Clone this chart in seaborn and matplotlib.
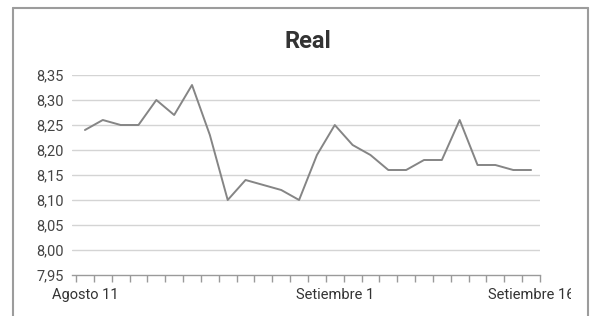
import matplotlib
matplotlib.use("Agg")
import matplotlib.pyplot as plt
import seaborn as sns
import pandas as pd
import numpy as np
from matplotlib.transforms import Bbox
from matplotlib.lines import Line2D

# ---- data ----
values = [8.24, 8.26, 8.25, 8.25, 8.30, 8.27, 8.33, 8.23, 8.10, 8.14, 8.13,
          8.12, 8.10, 8.19, 8.25, 8.21, 8.19, 8.16, 8.16, 8.18, 8.18, 8.26,
          8.17, 8.17, 8.16, 8.16]
label_pos = [0, 14, 25]
label_text = ["Agosto 11", "Setiembre 1", "Setiembre 16"]
y_ticks = [7.95, 8.00, 8.05, 8.10, 8.15, 8.20, 8.25, 8.30, 8.35]
title = "Real"

sns.set_theme(style="white")
plt.rcParams['font.family'] = ['Roboto', 'DejaVu Sans']

W, H = 603, 316
fig = plt.figure(figsize=(W / 100, H / 100), dpi=100)
fig.patch.set_facecolor("white")

ax = fig.add_axes([72 / W, (H - 275) / H, (540 - 72) / W, 200 / H])
df = pd.DataFrame({"i": list(range(len(values))), "v": values})
sns.lineplot(data=df, x="i", y="v", ax=ax, color="#858585", linewidth=1.4)

ax.set_xlim(-0.725, len(values) - 0.5)
ax.set_ylim(y_ticks[0], y_ticks[-1])
ax.set_xlabel("")
ax.set_ylabel("")

ax.set_yticks(y_ticks)
ax.set_yticklabels([f"{t:.2f}".replace(".", ",") for t in y_ticks])
for t in y_ticks[1:]:
    ax.axhline(t, color="#d4d4d4", lw=1.0, zorder=0)

for s in ["top", "right", "left"]:
    ax.spines[s].set_visible(False)
ax.spines["bottom"].set_color("#9a9a9a")
ax.spines["bottom"].set_linewidth(1.0)

ax.set_xticks(label_pos)
ax.set_xticklabels(label_text)
ax.set_xticks(np.arange(-0.5, len(values), 1), minor=True)
ax.tick_params(axis="x", which="major", length=0, pad=9.5, labelsize=10.5,
               labelcolor="#333333")
ax.tick_params(axis="x", which="minor", length=5, width=1.0, color="#9a9a9a",
               direction="out", bottom=True)
ax.tick_params(axis="y", length=0, pad=6, labelsize=10.5, labelcolor="#444444")

clip = Bbox.from_extents(0, 0, 571, H)
for lbl in ax.get_xticklabels():
    lbl.set_clip_on(True)
    lbl.set_clip_box(clip)

fig.text(308 / W, 1 - 41 / H, title, ha="center", va="center",
         fontsize=17, fontweight="bold", color="#333333")

# outer frame (left, top, right)
fc = "#9c9c9c"
fig.add_artist(Line2D([13 / W, 13 / W], [0, 1 - 8 / H], color=fc, lw=1.5,
                      transform=fig.transFigure))
fig.add_artist(Line2D([13 / W, 588 / W], [1 - 8 / H, 1 - 8 / H], color=fc, lw=1.5,
                      transform=fig.transFigure))
fig.add_artist(Line2D([588 / W, 588 / W], [0, 1 - 8 / H], color=fc, lw=1.5,
                      transform=fig.transFigure))

fig.savefig("out.png", dpi=100, facecolor="white")
